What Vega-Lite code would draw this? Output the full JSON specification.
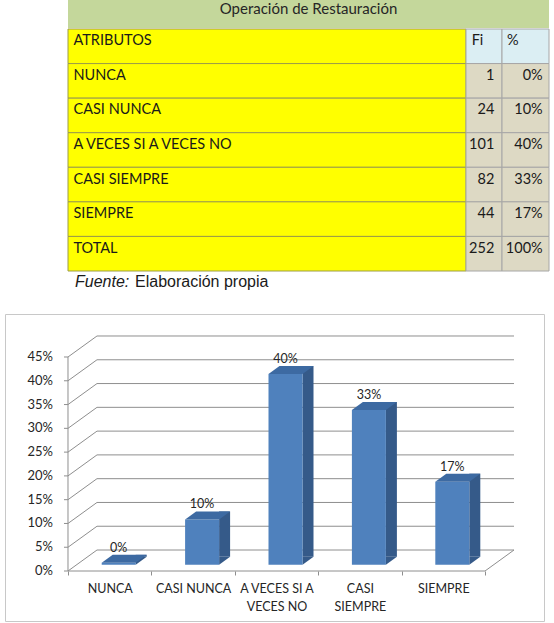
{
  "$schema": "https://vega.github.io/schema/vega-lite/v6.json",
  "padding": {"left": 4, "top": 0, "right": 0, "bottom": 0},
  "background": "white",
  "config": {"view": {"stroke": null}, "concat": {"spacing": 0}, "font": "Lato"},
  "datasets": {
    "tabla": [
      {"attr": "ATRIBUTOS", "fi": null, "pct": null},
      {"attr": "NUNCA", "fi": 1, "pct": 0.00397},
      {"attr": "CASI NUNCA", "fi": 24, "pct": 0.0952},
      {"attr": "A VECES SI A VECES NO", "fi": 101, "pct": 0.4008},
      {"attr": "CASI SIEMPRE", "fi": 82, "pct": 0.3254},
      {"attr": "SIEMPRE", "fi": 44, "pct": 0.1746},
      {"attr": "TOTAL", "fi": 252, "pct": 1}
    ],
    "ticks": [{"t": 0}, {"t": 0.05}, {"t": 0.1}, {"t": 0.15}, {"t": 0.2}, {"t": 0.25}, {"t": 0.3}, {"t": 0.35}, {"t": 0.4}, {"t": 0.45}]
  },
  "spacing": 0,
  "vconcat": [
    {
      "bounds": "flush",
      "spacing": 0,
      "hconcat": [
        {"width": 63, "height": 28, "data": {"values": [{}]}, "mark": "text", "encoding": {"text": {"value": ""}}},
        {
          "width": 481, "height": 28,
          "view": {"fill": "#c4d79b", "stroke": null},
          "data": {"values": [{"t": "Operación de Restauración"}]},
          "mark": {"type": "text", "baseline": "alphabetic", "dy": -0.5, "fontSize": 15, "color": "#262626", "clip": true},
          "encoding": {"text": {"field": "t"}}
        }
      ]
    },
    {
      "bounds": "flush",
      "spacing": 0,
      "hconcat": [
        {"width": 63, "height": 242, "data": {"values": [{}]}, "mark": "text", "encoding": {"text": {"value": ""}}},
        {
          "width": 398, "height": 242,
          "data": {"name": "tabla"},
          "encoding": {
            "y": {"field": "attr", "type": "nominal", "sort": null, "axis": null,
                  "scale": {"paddingInner": 0, "paddingOuter": 0}}
          },
          "layer": [
            {"mark": {"type": "rect", "fill": "#ffff00", "stroke": "#9c9c48", "strokeWidth": 1}},
            {"mark": {"type": "text", "align": "left", "dx": -193.5, "dy": -5, "fontSize": 14.5, "color": "#1a1a1a"},
             "encoding": {"text": {"field": "attr"}}}
          ]
        },
        {
          "width": 36, "height": 242,
          "data": {"name": "tabla"},
          "encoding": {
            "y": {"field": "attr", "type": "nominal", "sort": null, "axis": null,
                  "scale": {"paddingInner": 0, "paddingOuter": 0}}
          },
          "layer": [
            {"mark": {"type": "rect", "stroke": "#a6a6a6", "strokeWidth": 1},
             "encoding": {"color": {"condition": {"test": "datum.attr === 'ATRIBUTOS'", "value": "#dbeef3"}, "value": "#ddd9c4"}}},
            {"transform": [{"filter": "datum.attr === 'ATRIBUTOS'"}],
             "mark": {"type": "text", "align": "left", "dx": -12.3, "dy": -5, "fontSize": 14.5, "color": "#1a1a1a"},
             "encoding": {"text": {"value": "Fi"}}},
            {"transform": [{"filter": "datum.fi != null"}],
             "mark": {"type": "text", "align": "right", "dx": 10.3, "dy": -5, "fontSize": 14.5, "color": "#1a1a1a"},
             "encoding": {"text": {"field": "fi", "type": "quantitative"}}}
          ]
        },
        {
          "width": 47, "height": 242,
          "data": {"name": "tabla"},
          "encoding": {
            "y": {"field": "attr", "type": "nominal", "sort": null, "axis": null,
                  "scale": {"paddingInner": 0, "paddingOuter": 0}}
          },
          "layer": [
            {"mark": {"type": "rect", "stroke": "#a6a6a6", "strokeWidth": 1},
             "encoding": {"color": {"condition": {"test": "datum.attr === 'ATRIBUTOS'", "value": "#dbeef3"}, "value": "#ddd9c4"}}},
            {"transform": [{"filter": "datum.attr === 'ATRIBUTOS'"}],
             "mark": {"type": "text", "align": "left", "dx": -18.5, "dy": -5, "fontSize": 14.5, "color": "#1a1a1a"},
             "encoding": {"text": {"value": "%"}}},
            {"transform": [{"filter": "datum.pct != null"}],
             "mark": {"type": "text", "align": "right", "dx": 17.2, "dy": -5, "fontSize": 14.5, "color": "#1a1a1a"},
             "encoding": {"text": {"field": "pct", "type": "quantitative", "format": ".0%"}}}
          ]
        }
      ]
    },
    {
      "bounds": "flush",
      "spacing": 0,
      "hconcat": [
        {"width": 70, "height": 41, "data": {"values": [{}]}, "mark": "text", "encoding": {"text": {"value": ""}}},
        {
          "width": 200, "height": 41,
          "data": {"values": [{"a": "Fuente:", "b": "Elaboración propia"}]},
          "layer": [
            {"mark": {"type": "text", "align": "left", "baseline": "middle", "dx": -100, "dy": -10.5, "font": "Liberation Sans", "fontSize": 16, "fontStyle": "italic", "color": "#1a1a1a"},
             "encoding": {"text": {"field": "a"}}},
            {"mark": {"type": "text", "align": "left", "baseline": "middle", "dx": -40, "dy": -10.5, "font": "Liberation Sans", "fontSize": 16, "color": "#1a1a1a"},
             "encoding": {"text": {"field": "b"}}}
          ]
        }
      ]
    },
    {
      "width": 539, "height": 307,
      "view": {"stroke": "#c8c8c8", "strokeWidth": 1},
      "layer": [
        {
          "data": {"name": "ticks"},
          "mark": {"type": "rule", "color": "#8e8e8e", "strokeWidth": 1, "xOffset": 29, "x2Offset": 29, "yOffset": -21},
          "encoding": {
            "x": {"datum": "NUNCA", "type": "nominal", "bandPosition": 0,
                  "scale": {"domain": ["NUNCA", "CASI NUNCA", "A VECES SI A VECES NO", "CASI SIEMPRE", "SIEMPRE"], "paddingInner": 0, "paddingOuter": 0.7314, "align": 0.5164},
                  "axis": {"orient": "bottom", "offset": -50, "title": null, "domain": false, "grid": false,
                           "tickBand": "extent", "tickSize": 4, "tickColor": "#8e8e8e", "labelAngle": 0,
                           "labelPadding": 7, "labelFont": "Lato", "labelFontSize": 12.5, "labelColor": "#262626",
                           "labelLineHeight": 18, "labelLimit": 200,
                           "labelExpr": "datum.value == 'A VECES SI A VECES NO' ? ['A VECES SI A', 'VECES NO'] : datum.value == 'CASI SIEMPRE' ? ['CASI', 'SIEMPRE'] : datum.value"}},
            "x2": {"datum": "SIEMPRE", "bandPosition": 1},
            "y": {"field": "t", "type": "quantitative", "title": null,
                  "scale": {"domain": [-0.1051, 0.5404], "nice": false, "zero": false},
                  "axis": null}
          }
        },
        {
          "data": {"name": "ticks"},
          "mark": {"type": "rule", "color": "#8e8e8e", "strokeWidth": 1, "x2Offset": 29, "y2Offset": -21},
          "encoding": {
            "x": {"datum": "NUNCA", "type": "nominal", "bandPosition": 0},
            "x2": {"datum": "NUNCA", "bandPosition": 0},
            "y": {"field": "t", "type": "quantitative", "axis": null},
            "y2": {"field": "t"}
          }
        },
        {
          "data": {"name": "ticks"},
          "mark": {"type": "rule", "color": "#8e8e8e", "strokeWidth": 1, "x2Offset": -4},
          "encoding": {
            "x": {"datum": "NUNCA", "type": "nominal", "bandPosition": 0},
            "x2": {"datum": "NUNCA", "bandPosition": 0},
            "y": {"field": "t", "type": "quantitative", "axis": null}
          }
        },
        {
          "data": {"name": "ticks"},
          "mark": {"type": "text", "align": "right", "baseline": "middle", "dx": -15, "fontSize": 13, "color": "#262626"},
          "encoding": {
            "x": {"datum": "NUNCA", "type": "nominal", "bandPosition": 0},
            "y": {"field": "t", "type": "quantitative", "axis": null},
            "text": {"field": "t", "type": "quantitative", "format": ".0%"}
          }
        },
        {
          "data": {"values": [{}]},
          "mark": {"type": "rule", "color": "#8e8e8e", "strokeWidth": 1},
          "encoding": {
            "x": {"datum": "NUNCA", "type": "nominal", "bandPosition": 0},
            "y": {"datum": 0, "type": "quantitative", "axis": null},
            "y2": {"datum": 0.45}
          }
        },
        {
          "data": {"values": [{}]},
          "mark": {"type": "rule", "color": "#8e8e8e", "strokeWidth": 1},
          "encoding": {
            "x": {"datum": "NUNCA", "type": "nominal", "bandPosition": 0},
            "x2": {"datum": "SIEMPRE", "bandPosition": 1},
            "y": {"datum": 0, "type": "quantitative", "axis": null}
          }
        },
        {
          "data": {"values": [{}]},
          "mark": {"type": "rule", "color": "#8e8e8e", "strokeWidth": 1, "x2Offset": 29, "y2Offset": -21},
          "encoding": {
            "x": {"datum": "SIEMPRE", "type": "nominal", "bandPosition": 1},
            "x2": {"datum": "SIEMPRE", "bandPosition": 1},
            "y": {"datum": 0, "type": "quantitative", "axis": null},
            "y2": {"datum": 0}
          }
        },
        {
          "data": {"name": "tabla"},
          "transform": [{"filter": "datum.fi != null && datum.attr !== 'TOTAL'"}],
          "layer": [
            {
              "mark": {"type": "bar", "width": 11, "color": "#355a89", "xOffset": 31.5, "yOffset": -14.3, "y2Offset": -14.3},
              "encoding": {
                "x": {"field": "attr", "type": "nominal", "title": null},
                "y": {"field": "pct", "type": "quantitative", "axis": null},
                "y2": {"datum": 0}
              }
            },
            {
              "mark": {"type": "point", "shape": "M17,0L17,-8L28,-8Z", "size": 4, "filled": true, "opacity": 1, "strokeWidth": 0, "color": "#355a89", "xOffset": 9, "yOffset": -6.3},
              "encoding": {
                "x": {"field": "attr", "type": "nominal", "title": null},
                "y": {"datum": 0, "type": "quantitative", "axis": null}
              }
            },
            {
              "mark": {"type": "bar", "width": 34, "color": "#4f81bd", "xOffset": 9, "yOffset": -6.3, "y2Offset": -6.3},
              "encoding": {
                "x": {"field": "attr", "type": "nominal", "title": null},
                "y": {"field": "pct", "type": "quantitative", "axis": null},
                "y2": {"datum": 0}
              }
            },
            {
              "mark": {"type": "point", "shape": "M-17,0L17,0L28,-8L-6,-8Z", "size": 4, "filled": true, "opacity": 1, "strokeWidth": 0, "color": "#3d6aa2", "xOffset": 9, "yOffset": -6.3},
              "encoding": {
                "x": {"field": "attr", "type": "nominal", "title": null},
                "y": {"field": "pct", "type": "quantitative", "axis": null}
              }
            },
            {
              "mark": {"type": "text", "baseline": "middle", "xOffset": 9, "yOffset": -6.3, "dy": -15, "fontSize": 12.5, "color": "#262626"},
              "encoding": {
                "x": {"field": "attr", "type": "nominal", "title": null},
                "y": {"field": "pct", "type": "quantitative", "axis": null},
                "text": {"field": "pct", "type": "quantitative", "format": ".0%"}
              }
            }
          ]
        }
      ]
    }
  ]
}
